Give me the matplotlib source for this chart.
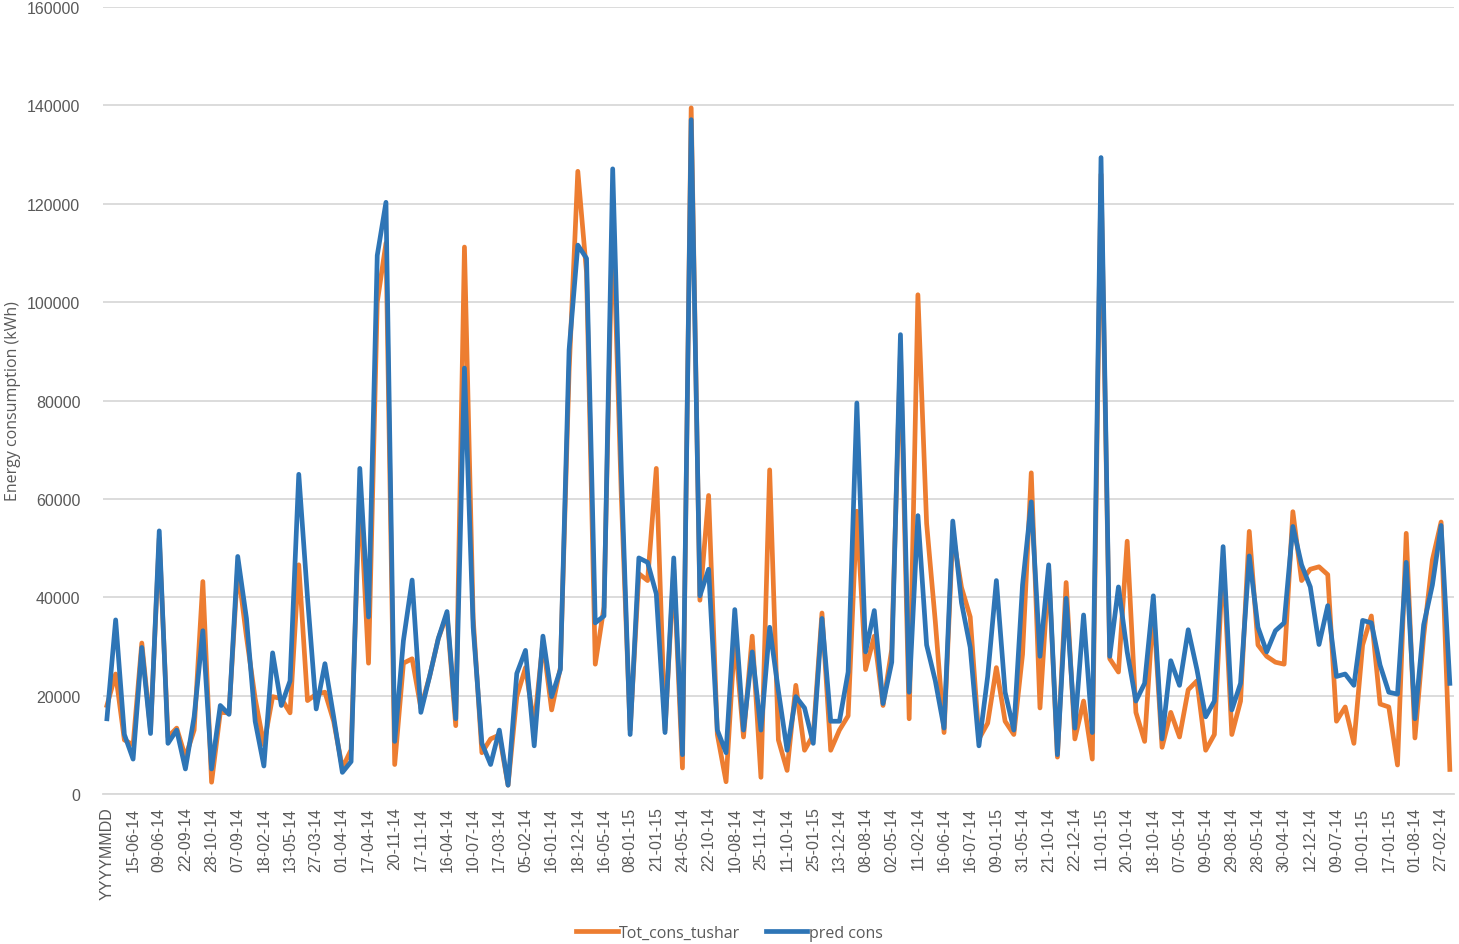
import numpy as np
import matplotlib.pyplot as plt

# tick labels, one for every 3rd day in the sheet
tick_labels = ["YYYYMMDD", "15-06-14", "09-06-14", "22-09-14", "28-10-14", "07-09-14",
               "18-02-14", "13-05-14", "27-03-14", "01-04-14", "17-04-14", "20-11-14",
               "17-11-14", "16-04-14", "10-07-14", "17-03-14", "05-02-14", "16-01-14",
               "18-12-14", "16-05-14", "08-01-15", "21-01-15", "24-05-14", "22-10-14",
               "10-08-14", "25-11-14", "11-10-14", "25-01-15", "13-12-14", "08-08-14",
               "02-05-14", "11-02-14", "16-06-14", "16-07-14", "09-01-15", "31-05-14",
               "21-10-14", "22-12-14", "11-01-15", "20-10-14", "18-10-14", "07-05-14",
               "09-05-14", "29-08-14", "28-05-14", "30-04-14", "12-12-14", "09-07-14",
               "10-01-15", "17-01-15", "01-08-14", "27-02-14"]

tot_cons = [18000, 24400, 11000, 10000, 30700, 13000, 52000, 11600, 13400, 7500,
            13000, 43200, 2400, 16600, 16500, 46000, 32000, 19400, 10000, 19800,
            19400, 16500, 46600, 19000, 20300, 20700, 14800, 5300, 9000, 62000,
            26600, 100000, 112000, 6000, 26600, 27500, 17500, 23900, 31600, 36500,
            13900, 111200, 35700, 8400, 11200, 12000, 1800, 19800, 25700, 13900,
            31000, 17100, 25700, 86000, 126600, 106000, 26400, 38000, 118000, 60000,
            13000, 44800, 43400, 66200, 13000, 45700, 5300, 139500, 39400, 60700,
            12100, 2500, 32100, 11600, 32100, 3400, 65900, 11000, 4800, 22100,
            8900, 12000, 36800, 8900, 13000, 15900, 57500, 25300, 32100, 18000,
            29400, 90000, 15300, 101500, 55000, 35000, 12500, 53000, 42000, 36000,
            11200, 14400, 25700, 14800, 12100, 28400, 65300, 17500, 45700, 7500,
            43000, 11200, 18900, 7100, 126000, 27500, 24800, 51400, 16600, 10700,
            38000, 9500, 16600, 11600, 21200, 23000, 8900, 12100, 48000, 12100,
            18900, 53400, 30300, 28000, 26800, 26400, 57400, 43400, 45700, 46200,
            44600, 14800, 17700, 10300, 30300, 36200, 18300, 17700, 5900, 53000,
            11400, 32100, 47600, 55300, 5000]

pred_cons = [15300, 35400, 12100, 7100, 29800, 12300, 53500, 10300, 13000, 5100,
             15700, 33200, 5100, 18000, 16200, 48300, 35700, 14800, 5700, 28700,
             18000, 23000, 65000, 40000, 17300, 26500, 15700, 4400, 6600, 66200,
             36000, 109500, 120300, 10700, 31200, 43500, 16600, 23900, 31600, 37100,
             15300, 86600, 33900, 10300, 6000, 13000, 1800, 24500, 29200, 9800,
             32100, 19800, 25300, 90300, 111600, 108900, 34800, 36200, 127100, 65000,
             12100, 48000, 47100, 40700, 12500, 48000, 8000, 137100, 40300, 45700,
             13000, 8400, 37500, 13000, 28900, 13000, 33900, 21000, 8900, 19800,
             17500, 10300, 35700, 14800, 14800, 24800, 79500, 28900, 37300, 18400,
             26800, 93400, 20700, 56600, 30300, 23000, 13400, 55500, 38900, 29800,
             9800, 23900, 43400, 20700, 13000, 42500, 59400, 28000, 46600, 8000,
             39800, 13400, 36400, 12500, 129400, 28000, 42100, 28900, 18900, 22500,
             40300, 11200, 27100, 22100, 33400, 25300, 15700, 18900, 50300, 17100,
             22500, 48400, 33900, 28900, 33200, 34800, 54400, 46600, 42100, 30400,
             38300, 23900, 24400, 22100, 35300, 34800, 26200, 20700, 20300, 47100,
             15300, 34400, 42500, 54600, 22500]

x = np.arange(len(tot_cons))

fig = plt.figure(figsize=(14.59, 9.45), dpi=100)
ax = fig.add_axes([0.0703, 0.1587, 0.9264, 0.8328])

ax.plot(x, tot_cons, color='#ED7D31', lw=3.4, label='Tot_cons_tushar', solid_joinstyle='round')
ax.plot(x, pred_cons, color='#2E75B6', lw=3.4, label='pred cons', solid_joinstyle='round')

ax.set_xlim(-0.5, len(x) - 0.5)
ax.set_ylim(0, 160000)
ax.set_yticks(np.arange(0, 160001, 20000))
ax.yaxis.grid(True, color='#d9d9d9', lw=1.3)
ax.set_axisbelow(True)
for s in ['top', 'right', 'left']:
    ax.spines[s].set_visible(False)
ax.spines['bottom'].set_color('#d9d9d9')
ax.spines['bottom'].set_linewidth(1.3)

ax.set_xticks(x[::3])
ax.set_xticklabels(tick_labels, rotation=90, fontsize=11.5, color='#595959',
                   family='Liberation Sans')
ax.tick_params(axis='x', length=0, pad=9)
ax.tick_params(axis='y', length=0, pad=16, labelsize=11.5, labelcolor='#595959')
for t in ax.get_yticklabels():
    t.set_family('Liberation Sans')

ax.set_ylabel('Energy consumption (kWh)', fontsize=11.5, color='#595959',
              family='Open Sans', labelpad=4)

fig.legend(loc='lower center', bbox_to_anchor=(0.5, -0.012), ncol=2, frameon=False,
           prop={'family': 'Open Sans', 'size': 11.5}, labelcolor='#595959',
           handlelength=2.6, handletextpad=0.1, columnspacing=1.6)

fig.savefig('out.png', dpi=100)
